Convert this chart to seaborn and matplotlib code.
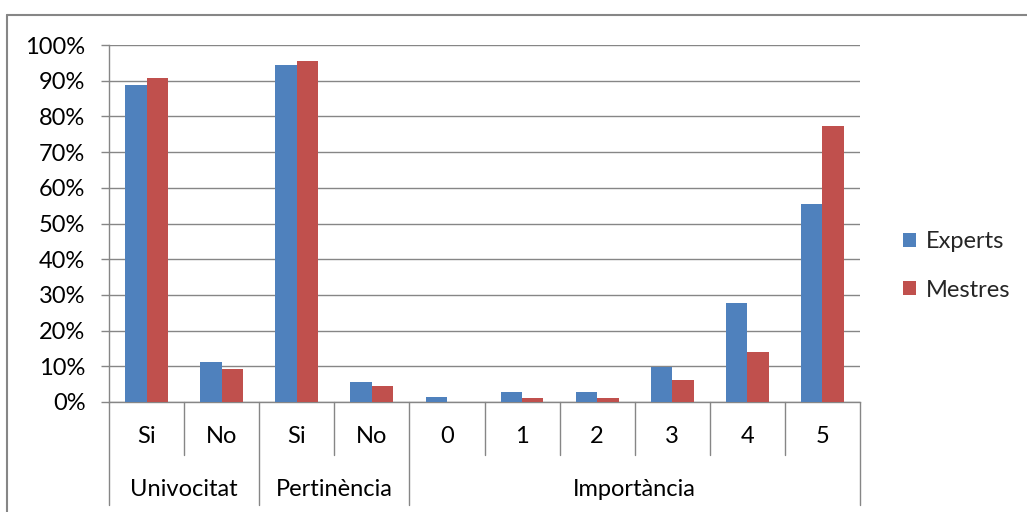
import numpy as np
import pandas as pd
import matplotlib
matplotlib.use("Agg")
import matplotlib.pyplot as plt
from matplotlib.lines import Line2D
from matplotlib.patches import Patch
import seaborn as sns

# Survey answers (percent of respondents) grouped by question
groups = ["Univocitat", "Pertinència", "Importància"]
group_levels = [["Si", "No"], ["Si", "No"], ["0", "1", "2", "3", "4", "5"]]
experts = [88.9, 11.1, 94.4, 5.6, 1.4, 2.8, 2.8, 9.7, 27.8, 55.6]
mestres = [90.7, 9.3, 95.6, 4.4, 0.0, 1.1, 1.1, 6.2, 14.0, 77.2]
series_names = ["Experts", "Mestres"]
series_colors = ["#4F81BD", "#C0504D"]
y_ticks = list(range(0, 101, 10))

sns.set_theme(style="white")
plt.rcParams["font.family"] = ["Lato", "DejaVu Sans"]

GRID = "#868686"
FS = 17

# Unique keys per bar position (level labels repeat across groups)
keys, level_labels = [], []
for g, levels in zip(groups, group_levels):
    for lv in levels:
        keys.append(f"{g}|{lv}")
        level_labels.append(lv)

df = pd.DataFrame({
    "key": keys * 2,
    "value": experts + mestres,
    "serie": [series_names[0]] * len(keys) + [series_names[1]] * len(keys),
})

fig = plt.figure(figsize=(10.27, 5.12), dpi=100)
ax = fig.add_axes([109 / 1027, 1 - 402 / 512, (860 - 109) / 1027, (402 - 45) / 512])

sns.barplot(data=df, x="key", y="value", hue="serie", order=keys,
            hue_order=series_names, palette=series_colors, width=0.57,
            linewidth=0, saturation=1, ax=ax, legend=False, zorder=3)

ax.set_xlim(-0.5, len(keys) - 0.5)
ax.set_ylim(0, 100)
ax.set_yticks(y_ticks)
ax.set_yticklabels([f"{t}%" for t in y_ticks], fontsize=FS, color="black")
ax.set_xlabel("")
ax.set_ylabel("")
ax.set_xticks([])
ax.yaxis.grid(True, color=GRID, linewidth=1.0, zorder=0)
ax.set_axisbelow(True)
ax.tick_params(axis="y", left=True, length=6, width=1.0, color=GRID, pad=11)

for side in ["top", "right"]:
    ax.spines[side].set_visible(False)
for side in ["left", "bottom"]:
    ax.spines[side].set_color(GRID)
    ax.spines[side].set_linewidth(1.0)

# Two-level category axis: level separators and group separators
trans = ax.get_xaxis_transform()
boundaries = np.arange(len(keys) + 1) - 0.5
group_edges = np.concatenate([[0], np.cumsum([len(l) for l in group_levels])]) - 0.5
for b in boundaries:
    if b in group_edges:
        continue
    ax.add_line(Line2D([b, b], [0, -0.148], transform=trans, color=GRID,
                       linewidth=1.0, clip_on=False))
for b in group_edges:
    ax.add_line(Line2D([b, b], [0, -0.289], transform=trans, color=GRID,
                       linewidth=1.0, clip_on=False))

for i, lab in enumerate(level_labels):
    ax.text(i, -0.098, lab, transform=trans, ha="center", va="center",
            fontsize=FS, color="black")
for g, lo, hi in zip(groups, group_edges[:-1], group_edges[1:]):
    ax.text((lo + hi) / 2, -0.246, g, transform=trans, ha="center",
            va="center", fontsize=FS, color="black")

# Legend
handles = [Patch(facecolor=c, edgecolor="none") for c in series_colors]
fig.legend(handles, series_names, loc="center left",
           bbox_to_anchor=(903 / 1027, 1 - 266 / 512), frameon=False,
           fontsize=FS, handlelength=0.55, handleheight=0.55,
           handletextpad=0.4, labelspacing=1.15, borderpad=0, borderaxespad=0)

# Chart area border (left and top edges)
fig.add_artist(Line2D([7 / 1027, 7 / 1027], [0, 1 - 15 / 512],
                      transform=fig.transFigure, color=GRID, linewidth=1.5))
fig.add_artist(Line2D([7 / 1027, 1], [1 - 15 / 512, 1 - 15 / 512],
                      transform=fig.transFigure, color=GRID, linewidth=1.5))

fig.savefig("out.png", dpi=100, facecolor="white")
